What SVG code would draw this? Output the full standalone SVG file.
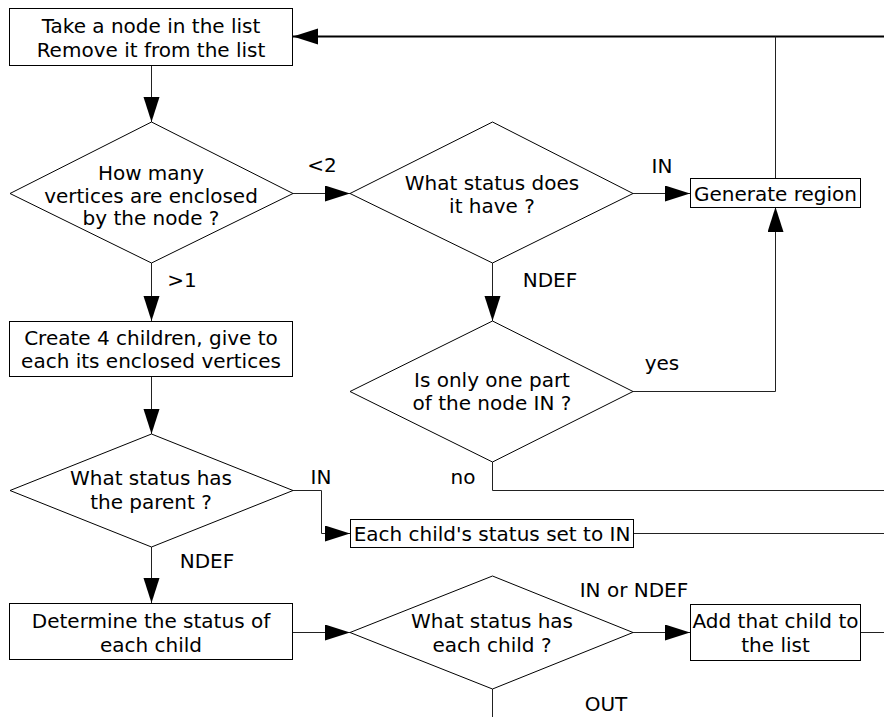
<svg xmlns="http://www.w3.org/2000/svg" width="884" height="717" viewBox="0 0 884 717">
<style>
  .shape { fill: #fff; stroke: #000; stroke-width: 1; }
  .conn { fill: none; stroke: #222; stroke-width: 1; }
  .thick { stroke: #000; stroke-width: 2; }
  text { font-family: "DejaVu Sans", Verdana, sans-serif; font-size: 20px; fill: #000; }
  .c { text-anchor: middle; }
</style>
<defs>
  <marker id="arr" markerUnits="userSpaceOnUse" markerWidth="26" markerHeight="17" refX="25" refY="8" orient="auto" viewBox="0 0 26 17">
    <path d="M0,0 L25,8 L0,16 z" fill="#000"/>
  </marker>
</defs>
<rect width="884" height="717" fill="#fff"/>

<g id="connectors">
  <path class="conn" d="M151.5,65 V122" marker-end="url(#arr)"/>
  <path class="conn" d="M293,193.5 H350" marker-end="url(#arr)"/>
  <path class="conn" d="M633,193.5 H690" marker-end="url(#arr)"/>
  <path class="conn thick" d="M884,36.5 H293" marker-end="url(#arr)"/>
  <path class="conn" d="M775.5,178 V36.5"/>
  <path class="conn" d="M492.5,263 V321" marker-end="url(#arr)"/>
  <path class="conn" d="M633,391.5 H775.5 V207" marker-end="url(#arr)"/>
  <path class="conn" d="M492.5,462 V490.5 H884"/>
  <path class="conn" d="M151.5,263 V321" marker-end="url(#arr)"/>
  <path class="conn" d="M151.5,376 V434" marker-end="url(#arr)"/>
  <path class="conn" d="M293,490.5 H321.5 V533.5 H350" marker-end="url(#arr)"/>
  <path class="conn" d="M633,533.5 H884"/>
  <path class="conn" d="M151.5,547 V603" marker-end="url(#arr)"/>
  <path class="conn" d="M293,632.5 H350" marker-end="url(#arr)"/>
  <path class="conn" d="M633,632.5 H690" marker-end="url(#arr)"/>
  <path class="conn" d="M861,632.5 H884"/>
  <path class="conn" d="M492.5,689 V717"/>
  <text x="322" y="172" class="c">&lt;2</text>
  <text x="662" y="173" class="c">IN</text>
  <text x="550" y="287" class="c">NDEF</text>
  <text x="182" y="287" class="c">&gt;1</text>
  <text x="662" y="370" class="c">yes</text>
  <text x="463" y="484" class="c">no</text>
  <text x="321" y="484" class="c">IN</text>
  <text x="207" y="568" class="c">NDEF</text>
  <text x="634" y="597" class="c">IN or NDEF</text>
  <text x="606" y="711" class="c">OUT</text>
</g>

<g id="take-node">
  <rect class="shape" x="9.5" y="8.5" width="283" height="57"/>
  <text x="151" y="33" class="c">Take a node in the list</text>
  <text x="151" y="57" class="c">Remove it from the list</text>
</g>

<g id="how-many">
  <polygon class="shape" points="151.5,122 293,193.5 151.5,263 10,193.5"/>
  <text x="151" y="180" class="c">How many</text>
  <text x="151" y="203" class="c">vertices are enclosed</text>
  <text x="151" y="225" class="c">by the node ?</text>
</g>

<g id="status-does">
  <polygon class="shape" points="492.5,122 633,193.5 492.5,263 350,193.5"/>
  <text x="492" y="190" class="c">What status does</text>
  <text x="492" y="213" class="c">it have ?</text>
</g>

<g id="generate-region">
  <rect class="shape" x="690.5" y="178.5" width="170" height="29"/>
  <text x="775.5" y="201" class="c">Generate region</text>
</g>

<g id="only-one-part">
  <polygon class="shape" points="492.5,321 633,391.5 492.5,462 350,391.5"/>
  <text x="492" y="387" class="c">Is only one part</text>
  <text x="492" y="410" class="c">of the node IN ?</text>
</g>

<g id="create-children">
  <rect class="shape" x="9.5" y="321.5" width="283" height="55"/>
  <text x="151" y="345" class="c">Create 4 children, give to</text>
  <text x="151" y="368" class="c">each its enclosed vertices</text>
</g>

<g id="status-parent">
  <polygon class="shape" points="151.5,434 293,490.5 151.5,547 10,490.5"/>
  <text x="151" y="485" class="c">What status has</text>
  <text x="151" y="509" class="c">the parent ?</text>
</g>

<g id="each-child-in">
  <rect class="shape" x="350.5" y="519.5" width="283" height="28"/>
  <text x="492" y="541" class="c">Each child's status set to IN</text>
</g>

<g id="determine-status">
  <rect class="shape" x="9.5" y="603.5" width="283" height="56"/>
  <text x="151" y="628" class="c">Determine the status of</text>
  <text x="151" y="652" class="c">each child</text>
</g>

<g id="status-child">
  <polygon class="shape" points="492.5,576 633,632.5 492.5,689 350,632.5"/>
  <text x="492" y="628" class="c">What status has</text>
  <text x="492" y="652" class="c">each child ?</text>
</g>

<g id="add-child">
  <rect class="shape" x="690.5" y="604.5" width="170" height="56"/>
  <text x="775.5" y="628" class="c">Add that child to</text>
  <text x="775.5" y="652" class="c">the list</text>
</g>
</svg>
